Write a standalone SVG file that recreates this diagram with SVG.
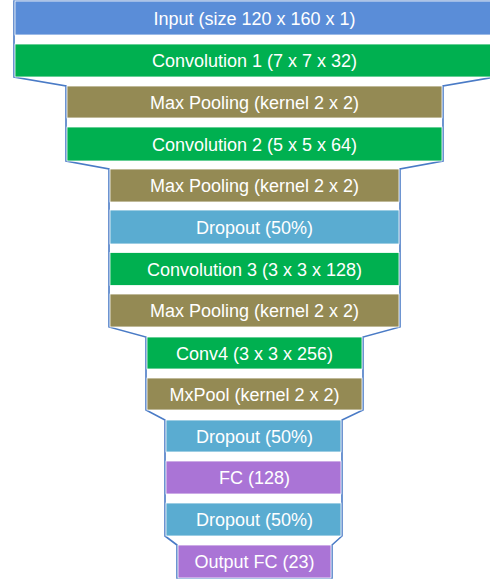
<svg xmlns="http://www.w3.org/2000/svg" width="490" height="579" viewBox="0 0 490 579">
<style>
.t{font-family:"Liberation Sans",Arial,sans-serif;font-size:18px;fill:#ffffff;text-anchor:middle}
.b{stroke:#ffffff;stroke-width:0.8}
.inp{fill:#5A8DD8}.conv{fill:#00B050}.pool{fill:#948A54}.drop{fill:#5AACD1}.fc{fill:#AA74D6}
</style>
<rect width="490" height="579" fill="#ffffff"/>
<g id="connectors">
<polygon points="14,1 14,77 66,86 66,161 109,169 109,327 146,337 146,410 165,420 165,536 177,545 177,578 332,578 332,545 342,536 342,420 363,410 363,337 400,327 400,169 443,161 443,86 495,77 495,1" fill="#ffffff" stroke="#4A7BC6" stroke-width="1.6" stroke-linejoin="miter"/>
</g>
<g id="input"><rect class="b inp" x="15" y="1" width="480" height="34"/><text class="t" x="254.5" y="25">Input (size 120 x 160 x 1)</text></g>
<g id="conv1"><rect class="b conv" x="15" y="44" width="480" height="33"/><text class="t" x="254.5" y="67">Convolution 1 (7 x 7 x 32)</text></g>
<g id="pool1"><rect class="b pool" x="67" y="86" width="375" height="32"/><text class="t" x="254.5" y="109">Max Pooling (kernel 2 x 2)</text></g>
<g id="conv2"><rect class="b conv" x="67" y="127" width="375" height="34"/><text class="t" x="254.5" y="151">Convolution 2 (5 x 5 x 64)</text></g>
<g id="pool2"><rect class="b pool" x="110" y="169" width="289" height="33"/><text class="t" x="254.5" y="192">Max Pooling (kernel 2 x 2)</text></g>
<g id="drop1"><rect class="b drop" x="110" y="210" width="289" height="34"/><text class="t" x="254.5" y="234">Dropout (50%)</text></g>
<g id="conv3"><rect class="b conv" x="110" y="252.5" width="289" height="33"/><text class="t" x="254.5" y="276">Convolution 3 (3 x 3 x 128)</text></g>
<g id="pool3"><rect class="b pool" x="110" y="294" width="289" height="33"/><text class="t" x="254.5" y="317">Max Pooling (kernel 2 x 2)</text></g>
<g id="conv4"><rect class="b conv" x="147" y="337" width="215" height="32"/><text class="t" x="254.5" y="360">Conv4 (3 x 3 x 256)</text></g>
<g id="pool4"><rect class="b pool" x="147" y="378" width="215" height="32"/><text class="t" x="254.5" y="401">MxPool (kernel 2 x 2)</text></g>
<g id="drop2"><rect class="b drop" x="166" y="420" width="175" height="32"/><text class="t" x="254.5" y="443">Dropout (50%)</text></g>
<g id="fc1"><rect class="b fc" x="166" y="461" width="175" height="33"/><text class="t" x="254.5" y="484">FC (128)</text></g>
<g id="drop3"><rect class="b drop" x="166" y="503" width="175" height="33"/><text class="t" x="254.5" y="526">Dropout (50%)</text></g>
<g id="output"><rect class="b fc" x="178" y="545" width="153" height="33"/><text class="t" x="254.5" y="568">Output FC (23)</text></g>
</svg>
